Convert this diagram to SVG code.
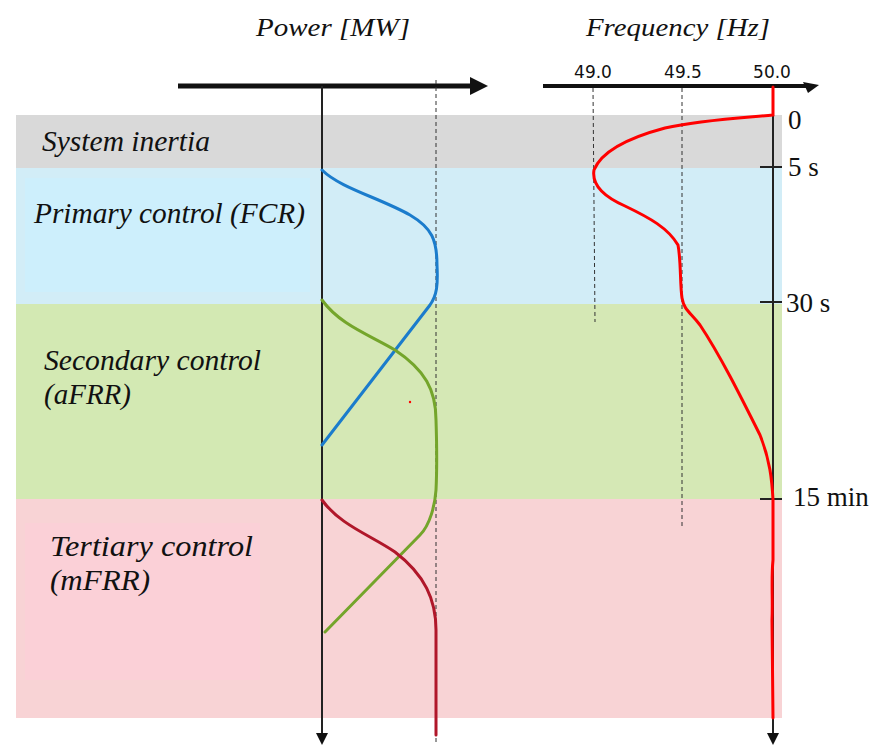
<svg xmlns="http://www.w3.org/2000/svg" width="877" height="746" viewBox="0 0 877 746">
<style>
.lbl{font-family:"Liberation Serif","Times New Roman",serif;font-style:italic;font-size:29px;fill:#111}
.ttl{font-family:"Liberation Serif","Times New Roman",serif;font-style:italic;font-size:26px;fill:#111}
.tick{font-family:"Liberation Serif","Times New Roman",serif;font-size:27px;fill:#111}
.hz{font-family:"DejaVu Sans","Liberation Sans",sans-serif;font-size:17px;fill:#111}
.ax{stroke:#222;stroke-width:2;fill:none}
.dash{stroke:#333;stroke-width:1;stroke-dasharray:4,3;fill:none}
.curve{fill:none;stroke-width:3;stroke-linecap:round}
</style>
<rect width="877" height="746" fill="#fff"/>
<g id="bands">
<rect x="16" y="115" width="766" height="53" fill="#d9d9d9"/>
<rect x="16" y="168" width="766" height="136" fill="#d2edf7"/>
<rect x="25" y="178" width="285" height="114" fill="#cdeffc"/>
<rect x="16" y="304" width="766" height="195" fill="#d5e8b5"/>
<rect x="16" y="304" width="254" height="195" fill="#d3e9b3"/>
<rect x="16" y="499" width="766" height="219" fill="#f8d3d5"/>
<rect x="25" y="523" width="235" height="157" fill="#fbd0d7"/>
</g>
<g id="labels">
<text class="lbl" x="42" y="151" textLength="168" lengthAdjust="spacingAndGlyphs">System inertia</text>
<text class="lbl" x="34" y="223" textLength="271" lengthAdjust="spacingAndGlyphs">Primary control (FCR)</text>
<text class="lbl" x="44" y="370" textLength="217" lengthAdjust="spacingAndGlyphs">Secondary control</text>
<text class="lbl" x="44" y="404" textLength="87" lengthAdjust="spacingAndGlyphs">(aFRR)</text>
<text class="lbl" x="50" y="556" textLength="203" lengthAdjust="spacingAndGlyphs">Tertiary control</text>
<text class="lbl" x="50" y="590" textLength="100" lengthAdjust="spacingAndGlyphs">(mFRR)</text>
</g>
<g id="power-axis">
<text class="ttl" x="256" y="36" textLength="154" lengthAdjust="spacingAndGlyphs">Power [MW]</text>
<line x1="178" y1="86" x2="474" y2="86" stroke="#111" stroke-width="5"/>
<path d="M470,77 L488,86 L470,95 Z" fill="#111"/>
<line x1="322" y1="86" x2="322" y2="734" class="ax"/>
<path d="M316,733 L328,733 L322,745 Z" fill="#111"/>
<line x1="436" y1="80" x2="436" y2="745" class="dash"/>
</g>
<g id="freq-axis">
<text class="ttl" x="586" y="36" textLength="184" lengthAdjust="spacingAndGlyphs">Frequency [Hz]</text>
<text class="hz" x="593" y="78" text-anchor="middle">49.0</text>
<text class="hz" x="683" y="78" text-anchor="middle">49.5</text>
<text class="hz" x="772" y="78" text-anchor="middle">50.0</text>
<line x1="543" y1="86" x2="808" y2="86" stroke="#111" stroke-width="4"/>
<path d="M803,82 L819,85 L808,93 Z" fill="#111"/>
<line x1="593" y1="88" x2="595" y2="322" class="dash"/>
<line x1="682" y1="88" x2="682" y2="527" class="dash"/>
<line x1="773" y1="115" x2="773" y2="734" class="ax"/>
<path d="M767,733 L779,733 L773,745 Z" fill="#111"/>
<line x1="760" y1="167" x2="782" y2="167" class="ax" stroke-width="1.5"/>
<line x1="760" y1="302" x2="782" y2="302" class="ax" stroke-width="1.5"/>
<line x1="760" y1="499" x2="782" y2="499" class="ax" stroke-width="1.5"/>
<text class="tick" x="788" y="129">0</text>
<text class="tick" x="788" y="176">5 s</text>
<text class="tick" x="786" y="312">30 s</text>
<text class="tick" x="793" y="506">15 min</text>
</g>
<g id="connectors">
<path class="curve" stroke="#1b7ccc" d="M322,170 C340,188 380,198 410,215 C432,228 437,240 437,265 C438,285 437,295 430,305 L322,445"/>
<path class="curve" stroke="#74a52b" d="M322,300 C340,325 370,335 395,350 C425,370 436,390 436,420 C437,450 437,470 436,490 C435,505 430,525 420,535 L325,632"/>
<path class="curve" stroke="#b0172a" d="M322,500 C340,525 370,535 395,552 C425,575 436,600 436,630 L436,735"/>
<path class="curve" stroke="#ff0000" stroke-width="4.5" d="M773,87 L773,115 C740,118 700,120 665,128 C620,140 600,155 594,170 C592,182 600,195 625,206 C650,218 668,228 678,245 C681,260 680,285 682,298 C684,310 690,312 700,325 C720,355 740,395 760,435 C770,460 772,480 773,500 L773,560 C771,580 773,600 772,620 L773,718"/>
<circle cx="410" cy="402" r="1.2" fill="#ff0000"/>
</g>
</svg>
